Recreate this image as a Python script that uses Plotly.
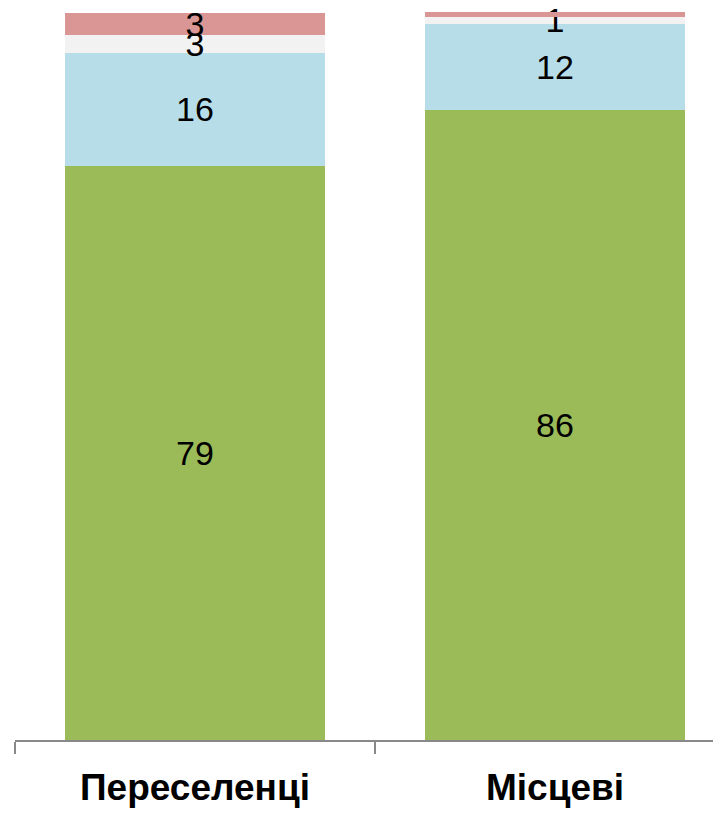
import plotly.graph_objects as go

categories = ["Переселенці", "Місцеві"]
green_vals = [78.9, 86.5]
blue_vals = [15.5, 11.9]
light_vals = [2.5, 0.9]
red_vals = [3.0, 0.7]
green_lbl = ["79", "86"]
blue_lbl = ["16", "12"]
light_lbl = ["3", "1"]
red_lbl = ["3", "1"]

series = [
    ("green", green_vals, green_lbl, "#9BBB59"),
    ("blue", blue_vals, blue_lbl, "#B7DEE8"),
    ("light", light_vals, light_lbl, "#F2F2F2"),
    ("red", red_vals, red_lbl, "#D99694"),
]

fig = go.Figure()
for name, vals, lbls, col in series:
    fig.add_trace(go.Bar(
        x=categories, y=vals, name=name, text=lbls,
        marker=dict(color=col, line=dict(width=0)),
        textposition="inside", insidetextanchor="middle", textangle=0,
        constraintext="none", cliponaxis=False,
        textfont=dict(family="Liberation Sans Narrow, Arial Narrow, Liberation Sans", size=34, color="black"),
        width=0.72, hoverinfo="skip",
    ))

fig.update_layout(
    barmode="stack",
    width=721, height=813,
    margin=dict(l=7, r=0, t=4, b=81),
    paper_bgcolor="white", plot_bgcolor="white",
    showlegend=False,
    xaxis=dict(
        range=[-0.5, 1.4833], showline=True, linecolor="#898989", linewidth=2,
        ticks="outside", tickson="boundaries", ticklen=12, tickwidth=2, tickcolor="#898989",
        ticklabelstandoff=14,
        tickfont=dict(family="Liberation Sans Narrow, Arial Narrow, Liberation Sans", size=37, color="black", weight="bold"),
        showgrid=False, zeroline=False,
    ),
    yaxis=dict(range=[0, 100], visible=False, showgrid=False, zeroline=False),
)

fig.write_html("out.html")
